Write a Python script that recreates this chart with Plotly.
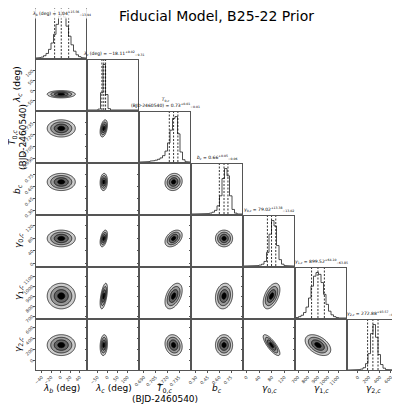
import numpy as np
import plotly.graph_objects as go

# parameter order: lambda_b, lambda_c, T0_c, b_c, gamma0_c, gamma1_c, gamma2_c
axis_labels = [
    "<i>λ</i><sub><i>b</i></sub> (deg)",
    "<i>λ</i><sub><i>c</i></sub> (deg)",
    "<i>T</i><sub>0,<i>c</i></sub><br>(BJD-2460540)",
    "<i>b</i><sub><i>c</i></sub>",
    "<i>γ</i><sub>0,<i>c</i></sub>",
    "<i>γ</i><sub>1,<i>c</i></sub>",
    "<i>γ</i><sub>2,<i>c</i></sub>",
]
title_names = [
    "<i>λ</i><sub><i>b</i></sub> (deg)",
    "<i>λ</i><sub><i>c</i></sub> (deg)",
    "<i>T</i><sub>0,<i>c</i></sub><br>(BJD-2460540)",
    "<i>b</i><sub><i>c</i></sub>",
    "<i>γ</i><sub>0,<i>c</i></sub>",
    "<i>γ</i><sub>1,<i>c</i></sub>",
    "<i>γ</i><sub>2,<i>c</i></sub>",
]
title_vals = ["1.04", "−18.11", "0.73", "0.66", "79.02", "899.52", "272.88"]
err_hi = ["15.56", "9.02", "0.01", "0.05", "13.38", "64.10", "93.57"]
err_lo = ["13.94", "9.31", "0.01", "0.06", "13.02", "63.85", "96.24"]

ranges = [[-52, 53], [-97, 153], [0.685, 0.749], [0.25, 0.89],
          [-8, 150], [680, 1180], [-180, 730]]
tick_vals = [
    [-40, -20, 0, 20, 40],
    [-50, 0, 50, 100],
    [0.690, 0.705, 0.720, 0.735],
    [0.30, 0.45, 0.60, 0.75],
    [0, 40, 80, 120],
    [700, 800, 900, 1000, 1100],
    [0, 200, 400, 600],
]
tick_text = [
    ["−40", "−20", "0", "20", "40"],
    ["−50", "0", "50", "100"],
    ["0.690", "0.705", "0.720", "0.735"],
    ["0.30", "0.45", "0.60", "0.75"],
    ["0", "40", "80", "120"],
    ["700", "800", "900", "1000", "1100"],
    ["0", "200", "400", "600"],
]

# 16 / 50 / 84 percentiles
q16 = [-12.90, -27.42, 0.7225, 0.600, 66.00, 835.67, 176.64]
q50 = [1.04, -18.11, 0.7280, 0.660, 79.02, 899.52, 272.88]
q84 = [16.60, -9.09, 0.7335, 0.710, 92.40, 963.62, 366.45]

# histogram counts, 20 bins over each axis range
hist_counts = [
    [0, 1, 2, 5, 10, 19, 33, 52, 74, 92, 100, 90, 70, 48, 29, 15, 7, 3, 1, 0],
    [0, 0, 0, 0, 2, 38, 100, 34, 3, 0, 0, 0, 0, 0, 0, 0, 0, 0, 0, 0],
    [0, 0, 1, 1, 2, 3, 4, 6, 9, 14, 24, 42, 70, 96, 100, 62, 22, 5, 1, 0],
    [0, 0, 0, 0, 0, 1, 1, 2, 4, 8, 18, 40, 78, 100, 84, 40, 10, 2, 0, 0],
    [0, 0, 0, 0, 0, 1, 2, 4, 10, 30, 70, 100, 88, 45, 14, 4, 1, 0, 0, 0],
    [1, 3, 6, 12, 24, 44, 70, 92, 100, 96, 78, 52, 30, 15, 7, 3, 1, 0, 0, 0],
    [0, 0, 0, 0, 1, 2, 5, 14, 36, 80, 100, 72, 34, 12, 4, 1, 0, 0, 0, 0],
]

# pairwise correlations
corr = [
    [1.00, 0.00, 0.00, 0.00, 0.00, 0.00, 0.00],
    [0.00, 1.00, 0.40, 0.10, 0.45, 0.55, 0.15],
    [0.00, 0.40, 1.00, 0.10, 0.40, 0.45, -0.15],
    [0.00, 0.10, 0.10, 1.00, 0.00, 0.15, 0.00],
    [0.00, 0.45, 0.40, 0.00, 1.00, 0.50, -0.80],
    [0.00, 0.55, 0.45, 0.15, 0.50, 1.00, -0.45],
    [0.00, 0.15, -0.15, 0.00, -0.80, -0.45, 1.00],
]

n = len(q50)
mean = np.array(q50)
sig = (np.array(q84) - np.array(q16)) / 2

# the page body has an 8px margin, so the figure is drawn 8px in from the window corner
OFF = 8
W, H = 400 - OFF, 407 - OFF
X0, Y0, P, G = 36, 8, 50, 2
FONT = "DejaVu Sans"
LAB = 9

fig = go.Figure()
layout = {}
shapes = []
annotations = []

contour_scale = [[0, "#000000"], [0.2, "#000000"], [0.2, "#666666"], [0.4, "#666666"],
                 [0.4, "#999999"], [0.6, "#999999"], [0.6, "#cccccc"], [0.8, "#cccccc"],
                 [0.8, "#ffffff"], [1, "#ffffff"]]


def px_x(p):
    return (p - OFF) / W


def px_y(p):
    return 1 - (p - OFF) / H


def label(text, x, y, angle=0, size=LAB, xanchor="center", yanchor="middle"):
    return dict(text=text, x=px_x(x), y=px_y(y), xref="paper", yref="paper",
                xanchor=xanchor, yanchor=yanchor, textangle=angle, showarrow=False,
                font=dict(size=size, color="black", family=FONT))


k = 0
for r in range(n):
    for c in range(r + 1):
        k += 1
        xa = "x" if k == 1 else f"x{k}"
        ya = "y" if k == 1 else f"y{k}"
        xkey = "xaxis" if k == 1 else f"xaxis{k}"
        ykey = "yaxis" if k == 1 else f"yaxis{k}"
        left = X0 + c * (P + G)
        top = Y0 + r * (P + G)
        base_ax = dict(showgrid=False, zeroline=False, showline=True, mirror=True,
                       linecolor="#555", linewidth=1, ticks="outside", ticklen=2,
                       tickwidth=0.6, tickcolor="#555", automargin=False,
                       tickfont=dict(size=4.5, color="#333", family=FONT), tickangle=-45)
        xax = dict(base_ax, domain=[px_x(left), px_x(left + P)], anchor=ya,
                   range=ranges[c], tickvals=tick_vals[c], ticktext=tick_text[c],
                   showticklabels=(r == n - 1))
        if r == c:
            edges = np.linspace(ranges[c][0], ranges[c][1], len(hist_counts[c]) + 1)
            cnt = np.array(hist_counts[c], dtype=float)
            hx = np.concatenate([[edges[0]], np.repeat(edges, 2)[1:-1], [edges[-1]]])
            hy = np.concatenate([[0], np.repeat(cnt, 2), [0]])
            fig.add_trace(go.Scatter(x=hx, y=hy, mode="lines", xaxis=xa, yaxis=ya,
                                     line=dict(color="#222", width=0.8),
                                     hoverinfo="skip", showlegend=False))
            yax = dict(base_ax, domain=[px_y(top + P), px_y(top)], anchor=xa,
                       range=[0, 1.1 * cnt.max()], showticklabels=False, ticks="")
            for q in (q16[c], q50[c], q84[c]):
                shapes.append(dict(type="line", xref=xa, yref=f"{ya} domain",
                                   x0=q, x1=q, y0=0, y1=1,
                                   line=dict(color="black", width=0.8, dash="2px,1.5px")))
            txt = (f"{title_names[c]} = {title_vals[c]}"
                   f"<sup>+{err_hi[c]}</sup><sub>−{err_lo[c]}</sub>")
            if r == 0:
                # the top title would sit above the window, so tuck it just under the edge
                a = label(txt, left + P / 2, OFF, size=4.5, yanchor="top")
                a["bgcolor"] = "rgba(255,255,255,0.85)"
            else:
                a = label(txt, left + P / 2, top - 1, size=4.5, yanchor="bottom")
            annotations.append(a)
        else:
            xs = np.linspace(ranges[c][0], ranges[c][1], 90)
            ys = np.linspace(ranges[r][0], ranges[r][1], 90)
            gx, gy = np.meshgrid(xs, ys)
            u = (gx - mean[c]) / sig[c]
            v = (gy - mean[r]) / sig[r]
            rho = corr[r][c]
            rr = np.sqrt((u * u - 2 * rho * u * v + v * v) / (1 - rho * rho))
            rr = np.minimum(rr, 2.45)
            fig.add_trace(go.Contour(x=xs, y=ys, z=rr, xaxis=xa, yaxis=ya,
                                     autocontour=False,
                                     contours=dict(start=0.5, end=2.5, size=0.5, coloring="fill"),
                                     colorscale=contour_scale, showscale=False,
                                     line=dict(color="black", width=0.7),
                                     hoverinfo="skip"))
            yax = dict(base_ax, domain=[px_y(top + P), px_y(top)], anchor=xa,
                       range=ranges[r], tickvals=tick_vals[r], ticktext=tick_text[r],
                       showticklabels=(c == 0))
        layout[xkey] = xax
        layout[ykey] = yax

# axis labels (the two-line T0 label is split into two annotations)
for c in range(n):
    cx = X0 + c * (P + G) + P / 2
    if c == 2:
        annotations.append(label("<i>T</i><sub>0,<i>c</i></sub>", cx, 388))
        annotations.append(label("(BJD-2460540)", cx, 399))
    else:
        annotations.append(label(axis_labels[c], cx, 388))
for r in range(1, n):
    cy = Y0 + r * (P + G) + P / 2
    if r == 2:
        annotations.append(label("<i>T</i><sub>0,<i>c</i></sub>", 13, cy, angle=-90))
        annotations.append(label("(BJD-2460540)", 23, cy, angle=-90))
    else:
        annotations.append(label(axis_labels[r], 18, cy, angle=-90))

annotations.append(label("Fiducial Model, B25-22 Prior", 216, 16, size=14))

fig.update_layout(**layout)
fig.update_layout(width=W, height=H, margin=dict(l=0, r=0, t=0, b=0),
                  paper_bgcolor="white", plot_bgcolor="white",
                  shapes=shapes, annotations=annotations, showlegend=False,
                  font=dict(family=FONT))
fig.write_html("out.html")
